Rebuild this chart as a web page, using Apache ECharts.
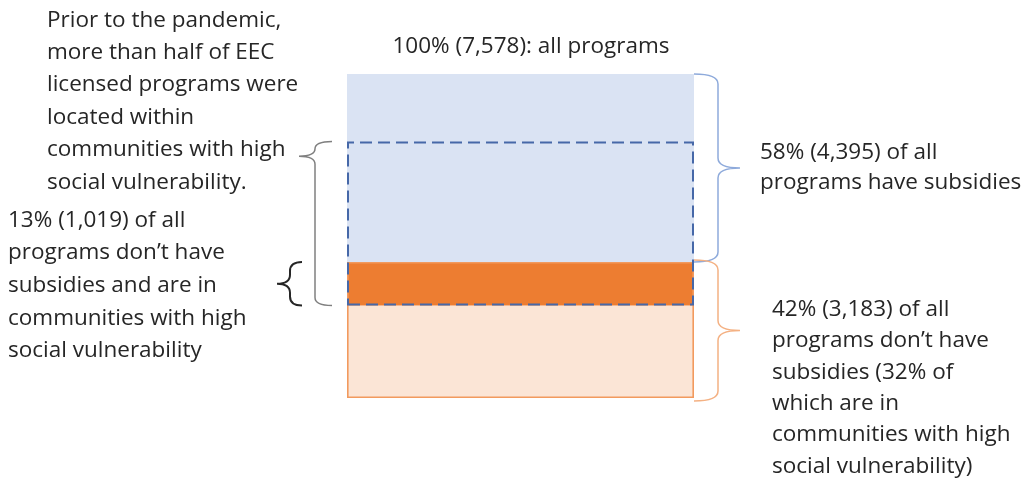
<!DOCTYPE html>
<html>
<head>
<meta charset="utf-8">
<script src="https://cdn.jsdelivr.net/npm/echarts@6/dist/echarts.min.js"></script>
<style>
  html, body { margin: 0; padding: 0; background: #ffffff; }
  #chart { width: 1025px; height: 482px; }
</style>
</head>
<body>
<div id="chart"></div>
<script>
// EEC licensed programs, prior to the pandemic
const categories = ['All programs'];
const totalPrograms = 7578;
const withSubsidies = 4395;
const withoutSubsidies = 3183;
const withoutSubsidiesHighSVI = 1019;
const withSubsidiesHighSVI = 2817; // estimated: high-SVI total is just over half of all programs

// derived stack pieces
const withoutSubsidiesOther = withoutSubsidies - withoutSubsidiesHighSVI;
const highSVITotal = withSubsidiesHighSVI + withoutSubsidiesHighSVI;

const FONT = '"Open Sans"';
const FONT_SIZE = 22.5;
const TEXT_COLOR = '#262626';

// Curly brace drawn against a value range on the y axis
function braceSeries(lo, hi, opt) {
  return {
    type: 'custom',
    silent: true,
    z: 5,
    data: [[0, lo, hi]],
    encode: { x: 0, y: [1, 2] },
    renderItem: function (params, api) {
      const bottom = api.coord([api.value(0), api.value(1)]);
      const top = api.coord([api.value(0), api.value(2)]);
      const band = api.size([1, 0])[0];
      const edge = opt.side > 0 ? bottom[0] + band / 2 : bottom[0] - band / 2;
      const s = opt.side;
      const hx = edge + s * opt.hook;
      const mx = edge + s * opt.mid;
      const tx = edge + s * opt.tip;
      const y0 = top[1] + (opt.padTop || 0);
      const y1 = bottom[1] + (opt.padBottom || 0);
      const ty = y0 + (y1 - y0) * opt.frac;
      const r1 = Math.min(opt.r, (ty - y0) / 2);
      const r2 = Math.min(opt.r, (y1 - ty) / 2);
      const path =
        'M' + hx + ' ' + y0 +
        ' Q' + mx + ' ' + y0 + ' ' + mx + ' ' + (y0 + r1) +
        ' L' + mx + ' ' + (ty - r1) +
        ' Q' + mx + ' ' + ty + ' ' + tx + ' ' + ty +
        ' Q' + mx + ' ' + ty + ' ' + mx + ' ' + (ty + r2) +
        ' L' + mx + ' ' + (y1 - r2) +
        ' Q' + mx + ' ' + y1 + ' ' + hx + ' ' + y1;
      return {
        type: 'path',
        shape: { pathData: path },
        style: { fill: 'none', stroke: opt.color, lineWidth: opt.width }
      };
    }
  };
}

function textBlock(x, y, lines, lineHeight, align) {
  return {
    type: 'text',
    x: x,
    y: y,
    silent: true,
    style: {
      text: lines.join('\n'),
      font: FONT_SIZE + 'px ' + FONT,
      fill: TEXT_COLOR,
      lineHeight: lineHeight,
      align: align || 'left',
      verticalAlign: 'top'
    }
  };
}

const chart = echarts.init(document.getElementById('chart'), null, { renderer: 'canvas' });

chart.setOption({
  animation: false,
  backgroundColor: '#ffffff',
  grid: { left: 347, right: 331, top: 74, bottom: 84 },
  xAxis: { type: 'category', data: categories, show: false },
  yAxis: { type: 'value', min: 0, max: totalPrograms, show: false },
  series: [
    {
      name: 'No subsidies, other communities',
      type: 'bar', stack: 'all', barWidth: '100%', barGap: '-100%', silent: true,
      data: [withoutSubsidiesOther],
      itemStyle: { color: '#fbe5d6' }
    },
    {
      name: 'No subsidies, high social vulnerability',
      type: 'bar', stack: 'all', barWidth: '100%', barGap: '-100%', silent: true,
      data: [withoutSubsidiesHighSVI],
      itemStyle: { color: '#ed7d31' }
    },
    {
      name: 'Subsidies',
      type: 'bar', stack: 'all', barWidth: '100%', barGap: '-100%', silent: true,
      data: [withSubsidies],
      itemStyle: { color: '#dae3f3' }
    },
    {
      name: 'No subsidies outline',
      type: 'bar', stack: 'outline', barWidth: '100%', barGap: '-100%', silent: true,
      data: [withoutSubsidies],
      itemStyle: { color: 'rgba(0,0,0,0)', borderColor: '#f29a5e', borderWidth: 1.6 }
    },
    {
      name: 'High SVI base',
      type: 'bar', stack: 'svi', barWidth: '100%', barGap: '-100%', silent: true,
      data: [withoutSubsidiesOther],
      itemStyle: { color: 'rgba(0,0,0,0)' }
    },
    {
      name: 'High social vulnerability',
      type: 'bar', stack: 'svi', barWidth: '100%', barGap: '-100%', silent: true,
      data: [highSVITotal],
      itemStyle: {
        color: 'rgba(0,0,0,0)', borderColor: '#4668a8', borderWidth: 2,
        borderType: [12, 6]
      }
    },
    // subsidies brace (right)
    braceSeries(withoutSubsidies, totalPrograms,
      { side: 1, hook: 0, mid: 24, tip: 46, frac: 0.5, r: 10, color: '#8eaadb', width: 1.5 }),
    // no-subsidies brace (right)
    braceSeries(0, withoutSubsidies,
      { side: 1, hook: 0, mid: 24, tip: 46, frac: 0.5, r: 10, color: '#f4b183', width: 1.5,
        padTop: -2, padBottom: 3 }),
    // high social vulnerability brace (left)
    braceSeries(withoutSubsidiesOther, withoutSubsidiesOther + highSVITotal,
      { side: -1, hook: 15, mid: 32, tip: 48, frac: 0.09, r: 8, color: '#808080', width: 1.5 }),
    // no subsidies & high SVI brace (left)
    braceSeries(withoutSubsidiesOther, withoutSubsidies,
      { side: -1, hook: 45, mid: 57, tip: 70, frac: 0.5, r: 9, color: '#262626', width: 2 })
  ],
  graphic: [
    {
      type: 'text', x: 531, y: 47, silent: true,
      style: {
        text: '100% (' + totalPrograms.toLocaleString('en-US') + '): all programs',
        font: FONT_SIZE + 'px ' + FONT, fill: TEXT_COLOR, align: 'center', verticalAlign: 'middle'
      }
    },
    textBlock(47, 4, [
      'Prior to the pandemic,',
      'more than half of EEC',
      'licensed programs were',
      'located within',
      'communities with high',
      'social vulnerability.'
    ], 32.4),
    textBlock(8, 204, [
      '13% (' + withoutSubsidiesHighSVI.toLocaleString('en-US') + ') of all',
      'programs don\u2019t have',
      'subsidies and are in',
      'communities with high',
      'social vulnerability'
    ], 32.6),
    textBlock(760, 138, [
      '58% (' + withSubsidies.toLocaleString('en-US') + ') of all',
      'programs have subsidies'
    ], 29.5),
    textBlock(772, 294, [
      '42% (' + withoutSubsidies.toLocaleString('en-US') + ') of all',
      'programs don\u2019t have',
      'subsidies (32% of',
      'which are in',
      'communities with high',
      'social vulnerability)'
    ], 31.3)
  ]
});
</script>
</body>
</html>
